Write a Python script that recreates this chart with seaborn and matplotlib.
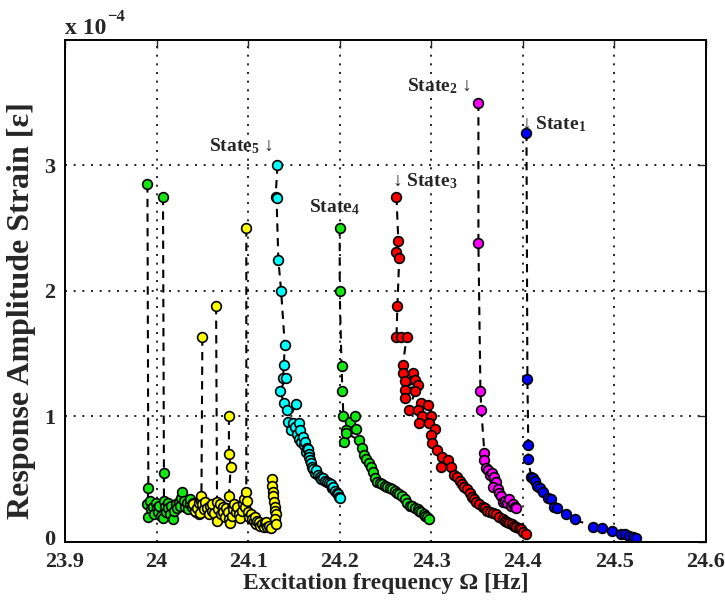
import matplotlib
matplotlib.use("Agg")
import matplotlib.pyplot as plt
import matplotlib.transforms as mtransforms
import seaborn as sns
import pandas as pd

# ---- measured response branches (strain in units of 1e-4) ----
# Each branch: frequency [Hz], amplitude, and sweep index (separate runs are not joined)

# State 1 (blue)
s1_freq = [24.404, 24.405, 24.406, 24.406, 24.409, 24.411, 24.413, 24.416, 24.419, 24.422,
           24.427, 24.431, 24.434, 24.437, 24.447, 24.457, 24.477, 24.486, 24.497, 24.507,
           24.512, 24.516, 24.520, 24.524]
s1_amp = [3.26, 1.30, 0.77, 0.66, 0.52, 0.51, 0.49, 0.45, 0.43, 0.40,
          0.35, 0.34, 0.28, 0.27, 0.22, 0.18, 0.12, 0.11, 0.09, 0.064,
          0.06, 0.045, 0.04, 0.03]
s1_sweep = [0] * 24

# State 2 (magenta)
s2_freq = [24.3515, 24.3515, 24.3537, 24.3547, 24.358, 24.358, 24.360, 24.362, 24.364, 24.366,
           24.368, 24.369, 24.371, 24.367, 24.373, 24.374, 24.376, 24.378, 24.381, 24.383,
           24.385, 24.387, 24.389, 24.391, 24.393]
s2_amp = [3.50, 2.38, 1.20, 1.05, 0.71, 0.65, 0.59, 0.57, 0.53, 0.55,
          0.50, 0.52, 0.48, 0.44, 0.42, 0.39, 0.37, 0.32, 0.33, 0.31,
          0.34, 0.29, 0.30, 0.28, 0.27]
s2_sweep = [0] * 25

# State 3 (red)
s3_freq = [24.262, 24.264, 24.262, 24.265, 24.263, 24.262, 24.267, 24.273, 24.269, 24.269,
           24.280, 24.271, 24.282, 24.271, 24.285, 24.271, 24.282, 24.276, 24.289, 24.296,
           24.285, 24.290, 24.300, 24.287, 24.298, 24.304, 24.300, 24.301, 24.306, 24.312,
           24.318, 24.311, 24.322, 24.325, 24.328, 24.331, 24.334, 24.336, 24.339, 24.342,
           24.345, 24.347, 24.349, 24.352, 24.356, 24.359, 24.361, 24.364, 24.367, 24.371,
           24.374, 24.378, 24.381, 24.383, 24.385, 24.388, 24.390, 24.393, 24.396, 24.398,
           24.400, 24.403]
s3_amp = [2.75, 2.40, 2.31, 2.26, 1.88, 1.63, 1.63, 1.63, 1.41, 1.35,
          1.35, 1.28, 1.29, 1.21, 1.25, 1.15, 1.20, 1.05, 1.11, 1.09,
          1.05, 1.00, 1.00, 0.95, 0.95, 0.90, 0.85, 0.79, 0.73, 0.68,
          0.65, 0.60, 0.60, 0.53, 0.52, 0.49, 0.46, 0.44, 0.42, 0.39,
          0.36, 0.34, 0.32, 0.30, 0.28, 0.27, 0.25, 0.24, 0.23, 0.22,
          0.20, 0.18, 0.17, 0.16, 0.15, 0.14, 0.13, 0.12, 0.11, 0.10,
          0.08, 0.06]
s3_sweep = [0] * 62

# State 4 (green)
s4_freq = [24.200, 24.200, 24.202, 24.203, 24.204, 24.211, 24.217, 24.207, 24.218, 24.205,
           24.207, 24.221, 24.224, 24.227, 24.229, 24.232, 24.234, 24.236, 24.239, 24.241,
           24.244, 24.246, 24.249, 24.252, 24.255, 24.257, 24.260, 24.263, 24.265, 24.268,
           24.271, 24.274, 24.277, 24.279, 24.282, 24.285, 24.287, 24.289, 24.292, 24.293,
           24.295, 24.297]
s4_amp = [2.50, 2.00, 1.40, 1.20, 1.00, 0.96, 1.00, 0.89, 0.90, 0.80,
          0.87, 0.81, 0.75, 0.69, 0.66, 0.63, 0.60, 0.56, 0.51, 0.48,
          0.47, 0.46, 0.45, 0.44, 0.43, 0.42, 0.41, 0.39, 0.38, 0.37,
          0.34, 0.31, 0.29, 0.29, 0.27, 0.26, 0.25, 0.24, 0.22, 0.21,
          0.20, 0.18]
s4_sweep = [0] * 42

# State 5 (cyan)
s5_freq = [24.132, 24.130, 24.131, 24.133, 24.136, 24.140, 24.139, 24.138, 24.141, 24.135,
           24.139, 24.142, 24.152, 24.144, 24.147, 24.149, 24.151, 24.153, 24.155, 24.156,
           24.157, 24.158, 24.160, 24.161, 24.162, 24.163, 24.164, 24.165, 24.166, 24.167,
           24.168, 24.169, 24.170, 24.171, 24.173, 24.174, 24.176, 24.178, 24.180, 24.182,
           24.184, 24.186, 24.188, 24.190, 24.192, 24.193, 24.195, 24.197, 24.198, 24.199,
           24.200]
s5_amp = [3.00, 2.75, 2.74, 2.25, 2.00, 1.57, 1.41, 1.31, 1.31, 1.20,
          1.11, 1.05, 1.10, 0.96, 0.89, 0.95, 0.92, 0.86, 0.95, 0.82,
          0.89, 0.80, 0.84, 0.77, 0.80, 0.72, 0.75, 0.74, 0.70, 0.68,
          0.65, 0.63, 0.60, 0.58, 0.55, 0.57, 0.53, 0.52, 0.50, 0.51,
          0.49, 0.48, 0.47, 0.46, 0.43, 0.44, 0.41, 0.39, 0.38, 0.36,
          0.35]
s5_sweep = [0] * 51

# Low-frequency branch (green), two runs
s7_freq = [23.990, 23.991, 23.990, 23.991, 23.993, 23.994, 23.996, 23.997, 23.999, 24.000,
           24.002, 24.003, 24.005,
           24.007, 24.008, 24.008, 24.007, 24.009, 24.010, 24.012, 24.013, 24.015, 24.016,
           24.018, 24.019, 24.021, 24.022, 24.024, 24.026, 24.027, 24.028, 24.030, 24.031,
           24.033, 24.034, 24.036, 24.037, 24.039, 24.040, 24.042, 24.043, 24.045, 24.046,
           24.048]
s7_amp = [2.85, 0.43, 0.30, 0.20, 0.33, 0.26, 0.28, 0.22, 0.31, 0.27,
          0.24, 0.29, 0.21,
          2.75, 0.55, 0.33, 0.19, 0.28, 0.24, 0.31, 0.27, 0.22, 0.29,
          0.18, 0.25, 0.30, 0.27, 0.32, 0.29, 0.35, 0.40, 0.33, 0.28,
          0.31, 0.26, 0.30, 0.34, 0.28, 0.31, 0.26, 0.24, 0.28, 0.22,
          0.25]
s7_sweep = [0] * 13 + [1] * 31

# Low-frequency branch (yellow), several runs
s6_freq = [24.040, 24.042, 24.044, 24.046, 24.047, 24.049,
           24.050, 24.049, 24.050, 24.052, 24.053, 24.055, 24.057, 24.058, 24.060, 24.061,
           24.063,
           24.065, 24.066, 24.066, 24.067, 24.069, 24.070, 24.072, 24.073, 24.075, 24.076,
           24.079, 24.079, 24.081, 24.079, 24.078, 24.079, 24.080, 24.082, 24.084, 24.085,
           24.087, 24.088, 24.090, 24.091, 24.093, 24.094, 24.096, 24.097,
           24.098, 24.098, 24.099, 24.100, 24.101, 24.103, 24.104, 24.106, 24.107, 24.109,
           24.110, 24.112, 24.113, 24.115, 24.117, 24.118, 24.120, 24.121, 24.123, 24.125,
           24.126, 24.126, 24.127, 24.127, 24.128, 24.129, 24.129, 24.130, 24.129, 24.130]
s6_amp = [0.30, 0.25, 0.27, 0.31, 0.23, 0.33,
          1.63, 0.37, 0.30, 0.26, 0.32, 0.27, 0.22, 0.29, 0.25, 0.30,
          0.23,
          1.88, 0.32, 0.17, 0.26, 0.30, 0.22, 0.28, 0.24, 0.20, 0.27,
          1.00, 0.70, 0.60, 0.37, 0.24, 0.18, 0.15, 0.21, 0.26, 0.30,
          0.24, 0.28, 0.22, 0.19, 0.25, 0.30, 0.34, 0.28,
          2.50, 0.40, 0.33, 0.24, 0.20, 0.22, 0.18, 0.17, 0.20, 0.14,
          0.17, 0.16, 0.13, 0.14, 0.12, 0.15, 0.16, 0.12, 0.13, 0.11,
          0.50, 0.45, 0.40, 0.37, 0.32, 0.28, 0.25, 0.22, 0.18, 0.14]
s6_sweep = [0] * 6 + [1] * 11 + [2] * 10 + [3] * 18 + [4] * 20 + [5] * 10

branches = [
    (s1_freq, s1_amp, s1_sweep, "#0000ff"),
    (s2_freq, s2_amp, s2_sweep, "#ff00ff"),
    (s3_freq, s3_amp, s3_sweep, "#ff0000"),
    (s4_freq, s4_amp, s4_sweep, "#14e614"),
    (s5_freq, s5_amp, s5_sweep, "#00ffff"),
    (s7_freq, s7_amp, s7_sweep, "#14e614"),
    (s6_freq, s6_amp, s6_sweep, "#ffff00"),
]

x_ticks = [23.9, 24.0, 24.1, 24.2, 24.3, 24.4, 24.5, 24.6]
x_tick_labels = ["23.9", "24", "24.1", "24.2", "24.3", "24.4", "24.5", "24.6"]
y_ticks = [0, 1, 2, 3]

sns.set_style("white")
plt.rcParams["font.family"] = ["Liberation Serif", "DejaVu Serif"]
plt.rcParams["font.weight"] = "bold"
plt.rcParams["mathtext.fontset"] = "custom"
plt.rcParams["mathtext.rm"] = "Liberation Serif"
plt.rcParams["mathtext.bf"] = "Liberation Serif:bold"
plt.rcParams["mathtext.default"] = "bf"

fig = plt.figure(figsize=(7.25, 6.04), dpi=100)
ax = fig.add_axes([0.0897, 0.1026, 0.884, 0.8314])

for freq, amp, sweep, face in branches:
    df = pd.DataFrame({"freq": freq, "amp": amp, "sweep": sweep})
    sns.lineplot(data=df, x="freq", y="amp", units="sweep", ax=ax, sort=False,
                 estimator=None, color="black", linewidth=1.5, linestyle=(0, (4, 3)),
                 marker="o", markersize=7, markerfacecolor=face,
                 markeredgecolor="black", markeredgewidth=1.2)

ax.set_xlim(23.9, 24.6)
ax.set_ylim(0, 4)
ax.set_xticks(x_ticks)
ax.set_xticklabels(x_tick_labels)
ax.set_yticks(y_ticks)
ax.tick_params(direction="in", length=6, width=1, top=True, right=True, labelsize=16)
ax.tick_params(axis="x", pad=7)
ax.tick_params(axis="y", pad=7)
for lab in ax.get_xticklabels() + ax.get_yticklabels():
    lab.set_fontweight("bold")
# lift the "0" label slightly so it clears the first frequency label
zero_lab = ax.get_yticklabels()[0]
zero_lab.set_transform(zero_lab.get_transform()
                       + mtransforms.ScaledTranslation(0, 3 / 72, fig.dpi_scale_trans))
ax.set_axisbelow(True)
ax.xaxis.grid(True, linestyle=(0, (1.2, 4)), color="black", linewidth=1.2)
ax.yaxis.grid(True, linestyle=(0, (1.2, 4)), color="black", linewidth=1.2)
for sp in ax.spines.values():
    sp.set_linewidth(1.4)
    sp.set_color("black")

ax.set_xlabel("Excitation frequency \u03a9 [Hz]", fontsize=17, fontweight="bold", labelpad=1)
ax.set_ylabel("Response Amplitude Strain [\u03b5]", fontsize=23, fontweight="bold")
ax.yaxis.set_label_coords(-0.045, 0.46)

# exponent note above the axes
fig.text(0.0897, 0.944, "x 10", fontsize=17, fontweight="bold", ha="left", va="baseline")
fig.text(0.148, 0.965, "\u22124", fontsize=12, fontweight="bold", ha="left", va="baseline")

# state annotations
lab_kw = dict(fontsize=14, fontweight="bold", va="baseline", ha="left")
ax.text(24.057, 3.11, "State$_{5}$ \u2193", **lab_kw)
ax.text(24.167, 2.63, "State$_{4}$", **lab_kw)
ax.text(24.2566, 2.83, "\u2193 State$_{3}$", **lab_kw)
ax.text(24.274, 3.59, "State$_{2}$ \u2193", **lab_kw)
ax.text(24.398, 3.29, "\u2193 State$_{1}$", **lab_kw)

fig.savefig("out.png", dpi=100, facecolor="white")
